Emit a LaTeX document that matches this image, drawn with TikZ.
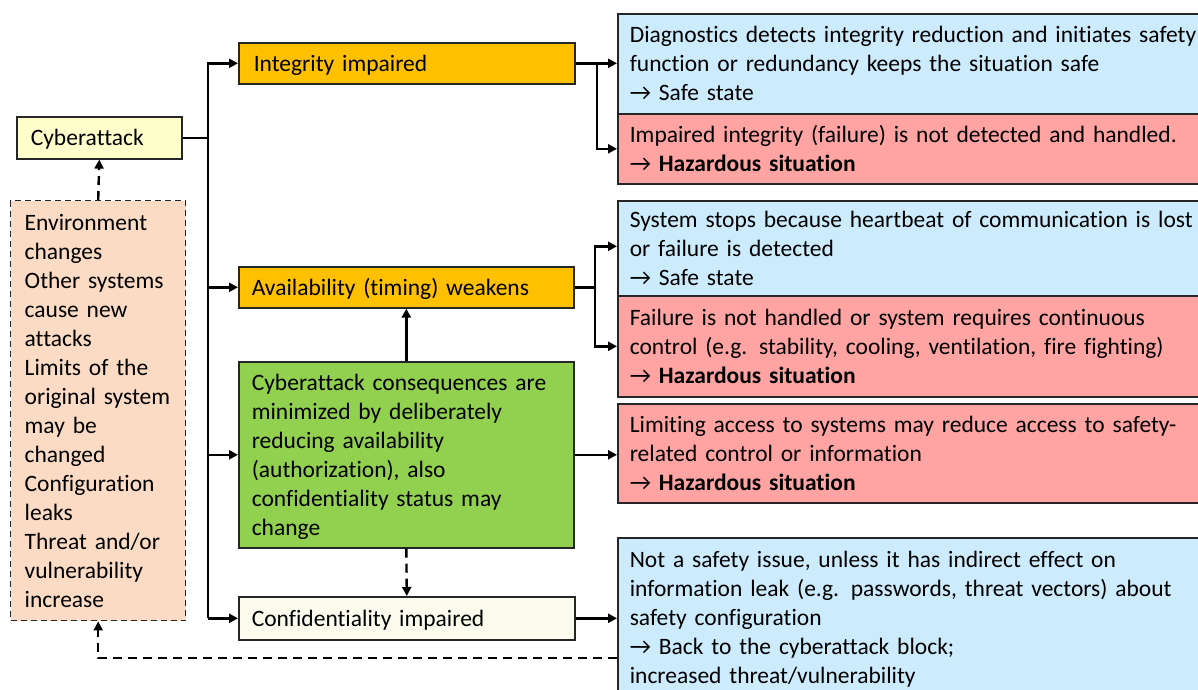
\documentclass[tikz,border=0pt]{standalone}
\usepackage{fontspec}
\setmainfont{Carlito}[RawFeature={-liga}]
\usetikzlibrary{arrows.meta,calc}

% one line per row, never re-wrapped; the taller first row sets the text a little lower
\newcommand\rows[1]{\begin{tabular}{@{}l@{}}\rule{0pt}{24.3pt}#1\end{tabular}}
\newcommand\hz{\bfseries Hazardous situation}

\definecolor{cyberfill}{HTML}{FFFFCC}
\definecolor{envfill}{HTML}{FCDBC4}
\definecolor{orangefill}{HTML}{FFC000}
\definecolor{greenfill}{HTML}{92D050}
\definecolor{conffill}{HTML}{FCFCEE}
\definecolor{safefill}{HTML}{CCEBFD}
\definecolor{hazfill}{HTML}{FFA3A3}

\begin{document}
\begin{tikzpicture}[x=1pt,y=-1pt,
  every node/.style={font=\fontsize{23.5}{29}\selectfont},
  box/.style={draw=black!85, line width=1.6pt, anchor=north west,
    inner ysep=0pt, align=left},
  ln/.style={line width=2.4pt, draw=black},
  arr/.style={ln, -{Triangle[length=9pt,width=9pt]}},
  darr/.style={arr, dash pattern=on 9pt off 6pt},
]
\useasboundingbox (0,0) rectangle (1198,689);
\clip (0,0) rectangle (1198,689);

% left column
\node[box, fill=cyberfill, inner xsep=14pt, text width=137pt, minimum height=42pt]
  (cyber) at (16,116) {\rows{Cyberattack}};
\node[box, fill=envfill, line width=1.4pt, dash pattern=on 6pt off 4pt,
  inner xsep=14pt, text width=147pt, minimum height=420pt]
  (env) at (10,200) {\rows{Environment\\ changes\\ Other systems\\ cause new\\ attacks\\
    Limits of the\\ original system\\ may be\\ changed\\ Configuration\\ leaks\\
    Threat and/or\\ vulnerability\\ increase}};

% middle column
\node[box, fill=orangefill, inner xsep=15pt, text width=306pt, minimum height=41pt]
  (integ) at (238,42) {\rows{Integrity impaired}};
\node[box, fill=orangefill, inner xsep=13pt, text width=309pt, minimum height=41pt]
  (avail) at (238,266) {\rows{Availability (timing) weakens}};
\node[box, fill=greenfill, inner xsep=13pt, text width=309pt, minimum height=186pt]
  (green) at (238,361) {\rows{Cyberattack consequences are\\ minimized by deliberately\\
    reducing availability\\ (authorization), also\\ confidentiality status may\\ change}};
\node[box, fill=conffill, inner xsep=13pt, text width=310pt, minimum height=43pt]
  (conf) at (238,596) {\rows{Confidentiality impaired}};

% right column: outcomes
\tikzset{outbox/.style={box, inner xsep=12pt, text width=620pt}}
\node[outbox, fill=safefill, minimum height=100pt] (b1) at (617,13)
  {\rows{Diagnostics detects integrity reduction and initiates safety\\
    function or redundancy keeps the situation safe\\ → Safe state}};
\node[outbox, fill=hazfill, minimum height=70pt] (r1) at (617,113)
  {\rows{Impaired integrity (failure) is not detected and handled.\\ → {\hz}}};
\node[outbox, fill=safefill, minimum height=95pt] (b2) at (617,200)
  {\rows{System stops because heartbeat of communication is lost\\
    or failure is detected\\ → Safe state}};
\node[outbox, fill=hazfill, minimum height=101pt] (r2) at (617,295)
  {\rows{Failure is not handled or system requires continuous\\
    control (e.g. stability, cooling, ventilation, fire fighting)\\ → {\hz}}};
\node[outbox, fill=hazfill, minimum height=99pt] (r3) at (617,403)
  {\rows{Limiting access to systems may reduce access to safety-\\
    related control or information\\ → {\hz}}};
\node[outbox, fill=safefill, minimum height=160pt] (b3) at (617,537)
  {\rows{Not a safety issue, unless it has indirect effect on\\
    information leak (e.g. passwords, threat vectors) about\\
    safety configuration\\ → Back to the cyberattack block;\\
    increased threat/vulnerability}};

% trunk from the cyberattack block
\coordinate (tr) at (208,0);
\draw[ln] (cyber.east) -- (cyber.east -| tr);
\draw[arr] (conf.west -| tr) |- (integ.west);
\draw[arr] (avail.west -| tr) -- (avail.west);
\draw[arr] (green.west -| tr) -- (green.west);
\draw[arr] (conf.west -| tr) -- (conf.west);

% integrity outcomes
\coordinate (s1) at (597,0);
\draw[ln] (integ.east) -- (integ.east -| s1);
\draw[arr] (integ.east -| s1) -- (integ.east -| b1.west);
\draw[arr] (integ.east -| s1) |- (r1.west);

% availability outcomes
\coordinate (s2) at (595,0);
\draw[ln] (avail.east) -- (avail.east -| s2);
\draw[arr] (avail.east -| s2) |- ([yshift=2pt]b2.west);
\draw[arr] (avail.east -| s2) |- (r2.west);

% deliberate reduction
\draw[arr] (green.north) -- (avail.south);
\draw[darr] (green.south) -- (conf.north);
\draw[arr] (green.east) -- (green.east -| r3.west);

% confidentiality
\draw[arr] (conf.east) -- (conf.east -| b3.west);

% feedback loops
\draw[darr] (env.north) -- (cyber.south);
\draw[darr] ([yshift=-40pt]b3.west) -| (env.south);
\end{tikzpicture}
\end{document}
